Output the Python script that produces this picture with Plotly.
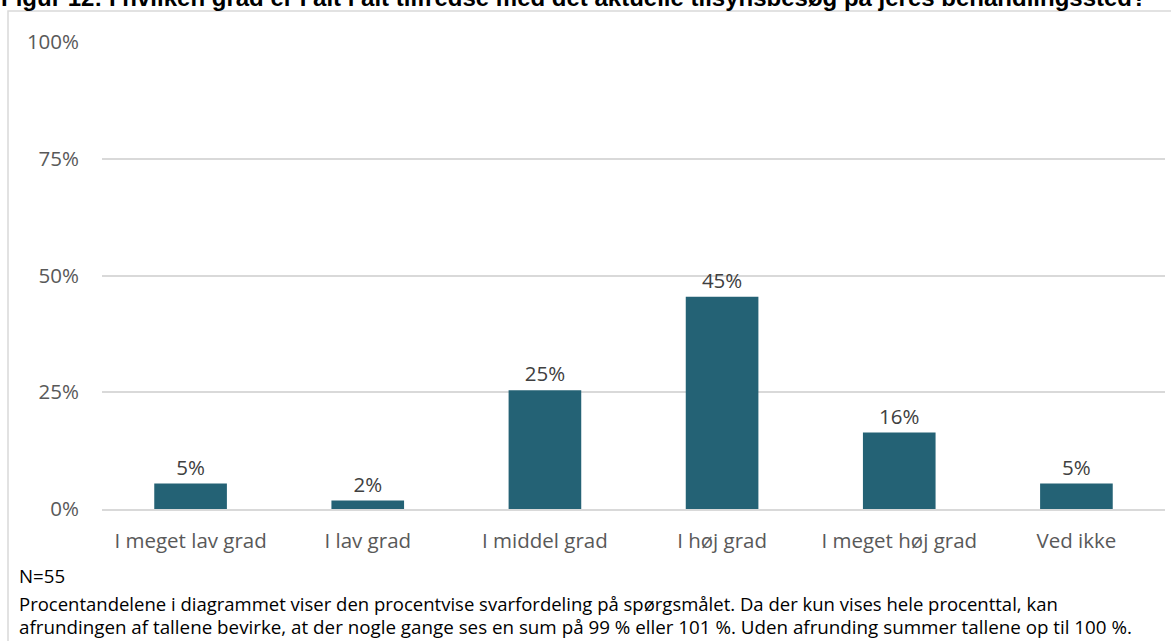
import plotly.graph_objects as go

categories = ["I meget lav grad", "I lav grad", "I middel grad", "I høj grad", "I meget høj grad", "Ved ikke"]
values = [5.45, 1.82, 25.45, 45.45, 16.36, 5.45]
labels = ["5%", "2%", "25%", "45%", "16%", "5%"]
y_ticks = [0, 25, 50, 75, 100]
y_tick_labels = ["0%", "25%", "50%", "75%", "100%"]

title = "Figur 12: I hvilken grad er I alt i alt tilfredse med det aktuelle tilsynsbesøg på jeres behandlingssted?"
note_n = "N=55"
note_1 = "Procentandelene i diagrammet viser den procentvise svarfordeling på spørgsmålet. Da der kun vises hele procenttal, kan"
note_2 = "afrundingen af tallene bevirke, at der nogle gange ses en sum på 99 % eller 101 %. Uden afrunding summer tallene op til 100 %."

W, H = 1171, 641
L, R, T, B = 102, 6, 42, 132
pw, ph = W - L - R, H - T - B

def px(x):
    return (x - L) / pw

def py(y):
    return (H - B - y) / ph

fig = go.Figure()
fig.add_trace(go.Bar(
    x=categories, y=values, text=labels, textposition="outside",
    textfont=dict(family="Open Sans", size=20.5, color="#404040"),
    marker=dict(color="#246275", line=dict(width=0)),
    width=0.41, cliponaxis=False, hoverinfo="skip",
))

fig.update_layout(
    width=W, height=H,
    margin=dict(l=L, r=R, t=T, b=B, pad=0),
    paper_bgcolor="white", plot_bgcolor="white",
    showlegend=False,
    font=dict(family="Open Sans", color="#595959"),
    xaxis=dict(
        showgrid=False, showline=True, linecolor="#d9d9d9", linewidth=1.5,
        ticks="", ticklabelstandoff=13,
        tickfont=dict(family="Open Sans", size=20.5, color="#595959"),
        fixedrange=True,
    ),
    yaxis=dict(
        range=[0, 100], tickvals=y_ticks, ticktext=y_tick_labels,
        showgrid=True, gridcolor="#d9d9d9", gridwidth=1.5,
        zeroline=False, showline=False, ticks="", ticklabelstandoff=22,
        tickfont=dict(family="Open Sans", size=20.5, color="#595959"),
        fixedrange=True,
    ),
    shapes=[dict(
        type="rect", xref="paper", yref="paper",
        x0=px(8), x1=px(1180), y0=py(11), y1=py(660),
        line=dict(color="#d9d9d9", width=1.5), fillcolor="rgba(0,0,0,0)",
        layer="below",
    )],
    annotations=[
        dict(text="<b>" + title + "</b>", xref="paper", yref="paper",
             x=px(-1), y=py(13), xanchor="left", yanchor="bottom", showarrow=False,
             font=dict(family="Liberation Sans, Arial", size=24, color="#000000")),
        dict(text=note_n, xref="paper", yref="paper",
             x=px(17), y=py(575), xanchor="left", yanchor="middle", showarrow=False,
             font=dict(family="Open Sans", size=18.7, color="#000000")),
        dict(text=note_1, xref="paper", yref="paper",
             x=px(17), y=py(603), xanchor="left", yanchor="middle", showarrow=False,
             font=dict(family="Open Sans", size=18.5, color="#000000")),
        dict(text=note_2, xref="paper", yref="paper",
             x=px(17), y=py(627), xanchor="left", yanchor="middle", showarrow=False,
             font=dict(family="Open Sans", size=18.8, color="#000000")),
    ],
)

fig.write_html("out.html", config={"displayModeBar": False},
               post_script="document.body.style.margin='0';document.body.style.overflow='hidden';")
